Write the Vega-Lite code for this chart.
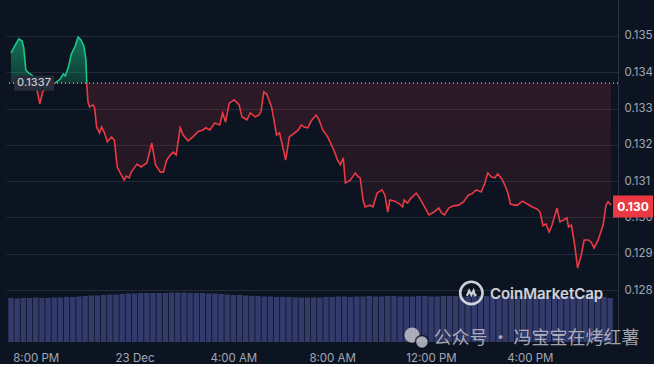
{
  "$schema": "https://vega.github.io/schema/vega-lite/v6.json",
  "width": 612,
  "height": 342,
  "padding": {"left": 5, "top": 0, "right": 0, "bottom": 0},
  "background": "#0d1421",
  "config": {"view": {"stroke": null}, "font": "Inter"},
  "datasets": {
    "price": [
      {"t":"2023-12-22T19:00","price":0.13453},{"t":"2023-12-22T19:10","price":0.13475},{"t":"2023-12-22T19:19","price":0.13492},{"t":"2023-12-22T19:27","price":0.13486},{"t":"2023-12-22T19:31","price":0.13467},{"t":"2023-12-22T19:36","price":0.13406},{"t":"2023-12-22T19:43","price":0.13398},{"t":"2023-12-22T19:53","price":0.13390},{"t":"2023-12-22T20:02","price":0.13357},{"t":"2023-12-22T20:10","price":0.13313},{"t":"2023-12-22T20:17","price":0.13346},{"t":"2023-12-22T20:29","price":0.13360},{"t":"2023-12-22T20:38","price":0.13365},{"t":"2023-12-22T20:48","price":0.13371},{"t":"2023-12-22T21:00","price":0.13382},{"t":"2023-12-22T21:07","price":0.13395},{"t":"2023-12-22T21:12","price":0.13390},{"t":"2023-12-22T21:19","price":0.13412},{"t":"2023-12-22T21:26","price":0.13448},{"t":"2023-12-22T21:31","price":0.13461},{"t":"2023-12-22T21:36","price":0.13472},{"t":"2023-12-22T21:43","price":0.13497},{"t":"2023-12-22T21:50","price":0.13489},{"t":"2023-12-22T21:57","price":0.13472},{"t":"2023-12-22T22:02","price":0.13434},{"t":"2023-12-22T22:04","price":0.13365},{"t":"2023-12-22T22:07","price":0.13318},{"t":"2023-12-22T22:11","price":0.13304},{"t":"2023-12-22T22:19","price":0.13310},{"t":"2023-12-22T22:23","price":0.13302},{"t":"2023-12-22T22:28","price":0.13249},{"t":"2023-12-22T22:35","price":0.13233},{"t":"2023-12-22T22:40","price":0.13249},{"t":"2023-12-22T22:47","price":0.13233},{"t":"2023-12-22T22:54","price":0.13208},{"t":"2023-12-22T23:04","price":0.13222},{"t":"2023-12-22T23:11","price":0.13213},{"t":"2023-12-22T23:18","price":0.13139},{"t":"2023-12-22T23:28","price":0.13117},{"t":"2023-12-22T23:35","price":0.13103},{"t":"2023-12-22T23:40","price":0.13114},{"t":"2023-12-22T23:47","price":0.13109},{"t":"2023-12-22T23:52","price":0.13125},{"t":"2023-12-22T23:59","price":0.13136},{"t":"2023-12-23T00:06","price":0.13147},{"t":"2023-12-23T00:16","price":0.13139},{"t":"2023-12-23T00:30","price":0.13150},{"t":"2023-12-23T00:42","price":0.13205},{"t":"2023-12-23T00:51","price":0.13145},{"t":"2023-12-23T01:03","price":0.13125},{"t":"2023-12-23T01:10","price":0.13125},{"t":"2023-12-23T01:18","price":0.13158},{"t":"2023-12-23T01:27","price":0.13172},{"t":"2023-12-23T01:34","price":0.13180},{"t":"2023-12-23T01:41","price":0.13172},{"t":"2023-12-23T01:51","price":0.13247},{"t":"2023-12-23T01:58","price":0.13227},{"t":"2023-12-23T02:10","price":0.13211},{"t":"2023-12-23T02:22","price":0.13222},{"t":"2023-12-23T02:34","price":0.13236},{"t":"2023-12-23T02:46","price":0.13241},{"t":"2023-12-23T02:53","price":0.13247},{"t":"2023-12-23T03:03","price":0.13241},{"t":"2023-12-23T03:15","price":0.13260},{"t":"2023-12-23T03:27","price":0.13255},{"t":"2023-12-23T03:34","price":0.13288},{"t":"2023-12-23T03:41","price":0.13263},{"t":"2023-12-23T03:50","price":0.13315},{"t":"2023-12-23T04:02","price":0.13324},{"t":"2023-12-23T04:14","price":0.13310},{"t":"2023-12-23T04:21","price":0.13277},{"t":"2023-12-23T04:33","price":0.13269},{"t":"2023-12-23T04:41","price":0.13288},{"t":"2023-12-23T04:53","price":0.13277},{"t":"2023-12-23T05:02","price":0.13282},{"t":"2023-12-23T05:07","price":0.13291},{"t":"2023-12-23T05:14","price":0.13346},{"t":"2023-12-23T05:21","price":0.13340},{"t":"2023-12-23T05:33","price":0.13304},{"t":"2023-12-23T05:45","price":0.13227},{"t":"2023-12-23T05:52","price":0.13233},{"t":"2023-12-23T05:59","price":0.13200},{"t":"2023-12-23T06:07","price":0.13158},{"t":"2023-12-23T06:16","price":0.13222},{"t":"2023-12-23T06:26","price":0.13230},{"t":"2023-12-23T06:38","price":0.13241},{"t":"2023-12-23T06:45","price":0.13255},{"t":"2023-12-23T06:52","price":0.13249},{"t":"2023-12-23T07:01","price":0.13247},{"t":"2023-12-23T07:09","price":0.13266},{"t":"2023-12-23T07:21","price":0.13282},{"t":"2023-12-23T07:28","price":0.13269},{"t":"2023-12-23T07:37","price":0.13241},{"t":"2023-12-23T07:49","price":0.13222},{"t":"2023-12-23T08:04","price":0.13186},{"t":"2023-12-23T08:13","price":0.13158},{"t":"2023-12-23T08:20","price":0.13145},{"t":"2023-12-23T08:27","price":0.13164},{"t":"2023-12-23T08:32","price":0.13095},{"t":"2023-12-23T08:44","price":0.13103},{"t":"2023-12-23T08:56","price":0.13123},{"t":"2023-12-23T09:03","price":0.13112},{"t":"2023-12-23T09:08","price":0.13109},{"t":"2023-12-23T09:15","price":0.13048},{"t":"2023-12-23T09:20","price":0.13029},{"t":"2023-12-23T09:32","price":0.13034},{"t":"2023-12-23T09:39","price":0.13029},{"t":"2023-12-23T09:49","price":0.13067},{"t":"2023-12-23T10:01","price":0.13076},{"t":"2023-12-23T10:08","price":0.13062},{"t":"2023-12-23T10:15","price":0.13015},{"t":"2023-12-23T10:20","price":0.13048},{"t":"2023-12-23T10:32","price":0.13045},{"t":"2023-12-23T10:44","price":0.13037},{"t":"2023-12-23T10:51","price":0.13029},{"t":"2023-12-23T10:55","price":0.13048},{"t":"2023-12-23T11:03","price":0.13040},{"t":"2023-12-23T11:12","price":0.13054},{"t":"2023-12-23T11:24","price":0.13067},{"t":"2023-12-23T11:31","price":0.13056},{"t":"2023-12-23T11:43","price":0.13032},{"t":"2023-12-23T11:55","price":0.13007},{"t":"2023-12-23T12:07","price":0.13015},{"t":"2023-12-23T12:19","price":0.13026},{"t":"2023-12-23T12:26","price":0.13012},{"t":"2023-12-23T12:33","price":0.13007},{"t":"2023-12-23T12:43","price":0.13026},{"t":"2023-12-23T12:55","price":0.13032},{"t":"2023-12-23T13:07","price":0.13034},{"t":"2023-12-23T13:19","price":0.13043},{"t":"2023-12-23T13:31","price":0.13062},{"t":"2023-12-23T13:40","price":0.13065},{"t":"2023-12-23T13:50","price":0.13076},{"t":"2023-12-23T14:02","price":0.13070},{"t":"2023-12-23T14:11","price":0.13095},{"t":"2023-12-23T14:18","price":0.13123},{"t":"2023-12-23T14:26","price":0.13112},{"t":"2023-12-23T14:35","price":0.13109},{"t":"2023-12-23T14:42","price":0.13120},{"t":"2023-12-23T14:52","price":0.13106},{"t":"2023-12-23T14:59","price":0.13090},{"t":"2023-12-23T15:06","price":0.13070},{"t":"2023-12-23T15:13","price":0.13037},{"t":"2023-12-23T15:23","price":0.13034},{"t":"2023-12-23T15:30","price":0.13034},{"t":"2023-12-23T15:42","price":0.13045},{"t":"2023-12-23T15:54","price":0.13037},{"t":"2023-12-23T16:06","price":0.13029},{"t":"2023-12-23T16:18","price":0.13023},{"t":"2023-12-23T16:25","price":0.13015},{"t":"2023-12-23T16:32","price":0.12977},{"t":"2023-12-23T16:39","price":0.12982},{"t":"2023-12-23T16:47","price":0.12960},{"t":"2023-12-23T16:54","price":0.12979},{"t":"2023-12-23T17:06","price":0.13026},{"t":"2023-12-23T17:13","price":0.12988},{"t":"2023-12-23T17:22","price":0.12993},{"t":"2023-12-23T17:30","price":0.12999},{"t":"2023-12-23T17:34","price":0.12974},{"t":"2023-12-23T17:41","price":0.12979},{"t":"2023-12-23T17:49","price":0.12924},{"t":"2023-12-23T17:56","price":0.12861},{"t":"2023-12-23T18:05","price":0.12897},{"t":"2023-12-23T18:12","price":0.12938},{"t":"2023-12-23T18:22","price":0.12938},{"t":"2023-12-23T18:29","price":0.12932},{"t":"2023-12-23T18:36","price":0.12916},{"t":"2023-12-23T18:46","price":0.12938},{"t":"2023-12-23T18:58","price":0.12979},{"t":"2023-12-23T19:05","price":0.13034},{"t":"2023-12-23T19:10","price":0.13043},{"t":"2023-12-23T19:17","price":0.13034}
    ],
    "volume": [
      {"t":"2023-12-22T19:00","vol":0.88},{"t":"2023-12-22T19:15","vol":0.87},{"t":"2023-12-22T19:30","vol":0.88},{"t":"2023-12-22T19:45","vol":0.88},{"t":"2023-12-22T20:00","vol":0.89},{"t":"2023-12-22T20:15","vol":0.88},{"t":"2023-12-22T20:30","vol":0.88},{"t":"2023-12-22T20:45","vol":0.89},{"t":"2023-12-22T21:00","vol":0.89},{"t":"2023-12-22T21:15","vol":0.90},{"t":"2023-12-22T21:30","vol":0.90},{"t":"2023-12-22T21:45","vol":0.91},{"t":"2023-12-22T22:00","vol":0.92},{"t":"2023-12-22T22:15","vol":0.93},{"t":"2023-12-22T22:30","vol":0.93},{"t":"2023-12-22T22:45","vol":0.94},{"t":"2023-12-22T23:00","vol":0.95},{"t":"2023-12-22T23:15","vol":0.95},{"t":"2023-12-22T23:30","vol":0.96},{"t":"2023-12-22T23:45","vol":0.97},{"t":"2023-12-23T00:00","vol":0.97},{"t":"2023-12-23T00:15","vol":0.98},{"t":"2023-12-23T00:30","vol":0.98},{"t":"2023-12-23T00:45","vol":0.98},{"t":"2023-12-23T01:00","vol":0.98},{"t":"2023-12-23T01:15","vol":0.98},{"t":"2023-12-23T01:30","vol":0.99},{"t":"2023-12-23T01:45","vol":0.99},{"t":"2023-12-23T02:00","vol":0.99},{"t":"2023-12-23T02:15","vol":0.98},{"t":"2023-12-23T02:30","vol":0.98},{"t":"2023-12-23T02:45","vol":0.98},{"t":"2023-12-23T03:00","vol":0.97},{"t":"2023-12-23T03:15","vol":0.97},{"t":"2023-12-23T03:30","vol":0.96},{"t":"2023-12-23T03:45","vol":0.95},{"t":"2023-12-23T04:00","vol":0.94},{"t":"2023-12-23T04:15","vol":0.94},{"t":"2023-12-23T04:30","vol":0.93},{"t":"2023-12-23T04:45","vol":0.92},{"t":"2023-12-23T05:00","vol":0.92},{"t":"2023-12-23T05:15","vol":0.91},{"t":"2023-12-23T05:30","vol":0.91},{"t":"2023-12-23T05:45","vol":0.90},{"t":"2023-12-23T06:00","vol":0.90},{"t":"2023-12-23T06:15","vol":0.90},{"t":"2023-12-23T06:30","vol":0.89},{"t":"2023-12-23T06:45","vol":0.89},{"t":"2023-12-23T07:00","vol":0.89},{"t":"2023-12-23T07:15","vol":0.89},{"t":"2023-12-23T07:30","vol":0.89},{"t":"2023-12-23T07:45","vol":0.90},{"t":"2023-12-23T08:00","vol":0.90},{"t":"2023-12-23T08:15","vol":0.91},{"t":"2023-12-23T08:30","vol":0.91},{"t":"2023-12-23T08:45","vol":0.90},{"t":"2023-12-23T09:00","vol":0.91},{"t":"2023-12-23T09:15","vol":0.91},{"t":"2023-12-23T09:30","vol":0.92},{"t":"2023-12-23T09:45","vol":0.91},{"t":"2023-12-23T10:00","vol":0.91},{"t":"2023-12-23T10:15","vol":0.92},{"t":"2023-12-23T10:30","vol":0.92},{"t":"2023-12-23T10:45","vol":0.91},{"t":"2023-12-23T11:00","vol":0.91},{"t":"2023-12-23T11:15","vol":0.91},{"t":"2023-12-23T11:30","vol":0.92},{"t":"2023-12-23T11:45","vol":0.92},{"t":"2023-12-23T12:00","vol":0.91},{"t":"2023-12-23T12:15","vol":0.91},{"t":"2023-12-23T12:30","vol":0.92},{"t":"2023-12-23T12:45","vol":0.92},{"t":"2023-12-23T13:00","vol":0.92},{"t":"2023-12-23T13:15","vol":0.91},{"t":"2023-12-23T13:30","vol":0.91},{"t":"2023-12-23T13:45","vol":0.92},{"t":"2023-12-23T14:00","vol":0.92},{"t":"2023-12-23T14:15","vol":0.92},{"t":"2023-12-23T14:30","vol":0.91},{"t":"2023-12-23T14:45","vol":0.91},{"t":"2023-12-23T15:00","vol":0.91},{"t":"2023-12-23T15:15","vol":0.92},{"t":"2023-12-23T15:30","vol":0.92},{"t":"2023-12-23T15:45","vol":0.92},{"t":"2023-12-23T16:00","vol":0.92},{"t":"2023-12-23T16:15","vol":0.91},{"t":"2023-12-23T16:30","vol":0.91},{"t":"2023-12-23T16:45","vol":0.92},{"t":"2023-12-23T17:00","vol":0.92},{"t":"2023-12-23T17:15","vol":0.92},{"t":"2023-12-23T17:30","vol":0.92},{"t":"2023-12-23T17:45","vol":0.91},{"t":"2023-12-23T18:00","vol":0.91},{"t":"2023-12-23T18:15","vol":0.91},{"t":"2023-12-23T18:30","vol":0.92},{"t":"2023-12-23T18:45","vol":0.92},{"t":"2023-12-23T19:00","vol":0.90},{"t":"2023-12-23T19:15","vol":0.88}
    ]
  },
  "layer": [
    {
      "data": {"name": "volume"},
      "mark": {"type": "bar", "size": 5.4, "color": "#323b6b", "clip": true},
      "encoding": {
        "x": {"field": "t", "type": "temporal", "title": null,
              "scale": {"domain": [{"year":2023,"month":12,"date":22,"hours":19,"minutes":0},{"year":2023,"month":12,"date":23,"hours":19,"minutes":22}], "nice": false}},
        "y": {"field": "vol", "type": "quantitative", "title": null, "axis": null, "scale": {"domain": [0, 6.84], "nice": false}}
      }
    },
    {
      "layer": [
        {
          "data": {"name": "price"},
          "mark": {"type": "area", "fill": {"gradient": "linear", "x1": 0, "y1": 0, "x2": 0, "y2": 1, "stops": [
            {"offset": 0, "color": "rgba(22,199,132,0.55)"},
            {"offset": 0.1996, "color": "rgba(22,199,132,0.2)"},
            {"offset": 0.1998, "color": "rgba(234,57,67,0.15)"},
            {"offset": 1, "color": "rgba(234,57,67,0.05)"}]}},
          "encoding": {
            "x": {"field": "t", "type": "temporal", "title": null},
            "y": {"field": "price", "type": "quantitative", "title": null, "scale": {"domain": [0.12657, 0.13599], "nice": false, "zero": false}},
            "y2": {"datum": 0.1337}
          }
        },
        {
          "data": {"name": "price"},
          "mark": {"type": "line", "strokeWidth": 1.6, "stroke": {"gradient": "linear", "x1": 0, "y1": 0, "x2": 0, "y2": 1, "stops": [
            {"offset": 0, "color": "#16c784"},
            {"offset": 0.1996, "color": "#16c784"},
            {"offset": 0.1998, "color": "#ea3943"},
            {"offset": 1, "color": "#ea3943"}]}},
          "encoding": {
            "x": {"field": "t", "type": "temporal", "title": null,
                  "axis": {"title": null, "grid": false, "domain": false, "ticks": false, "labelColor": "#a1a7b7", "labelFontSize": 11.5, "labelPadding": 10, "labelFlush": false,
                           "values": [{"year":2023,"month":12,"date":22,"hours":20},{"year":2023,"month":12,"date":23,"hours":0},{"year":2023,"month":12,"date":23,"hours":4},{"year":2023,"month":12,"date":23,"hours":8},{"year":2023,"month":12,"date":23,"hours":12},{"year":2023,"month":12,"date":23,"hours":16}],
                           "labelExpr": "timeFormat(datum.value, '%H') === '00' ? timeFormat(datum.value, '%-d %b') : timeFormat(datum.value, '%-I:%M %p')"}},
            "y": {"field": "price", "type": "quantitative", "title": null,
                  "axis": {"title": null, "orient": "right", "values": [0.128, 0.129, 0.13, 0.131, 0.132, 0.133, 0.134, 0.135], "format": ".3f",
                           "grid": true, "gridColor": "#232a3a", "domainColor": "#2c3344", "ticks": false,
                           "labelColor": "#a1a7b7", "labelFontSize": 11.5, "labelPadding": 6}}
          }
        },
        {
          "data": {"values": [{}]},
          "mark": {"type": "rule", "color": "#ffffff", "strokeDash": [1, 3], "strokeWidth": 1.2, "opacity": 0.75},
          "encoding": {"y": {"datum": 0.1337}}
        },
        {
          "data": {"values": [{}]},
          "mark": {"type": "point", "shape": "M-1,-0.375H1V0.375H-1Z", "size": 1600, "filled": true, "fill": "#272c3a", "opacity": 1, "xOffset": 23},
          "encoding": {"x": {"datum": {"year":2023,"month":12,"date":22,"hours":19,"minutes":0}, "type": "temporal"}, "y": {"datum": 0.1337}}
        },
        {
          "data": {"values": [{}]},
          "mark": {"type": "text", "text": "0.1337", "fontSize": 11, "fontWeight": 500, "color": "#c5c9d3", "xOffset": 23},
          "encoding": {"x": {"datum": {"year":2023,"month":12,"date":22,"hours":19,"minutes":0}, "type": "temporal"}, "y": {"datum": 0.1337}}
        },
        {
          "data": {"values": [{}]},
          "mark": {"type": "point", "shape": "M-1,-0.55H1V0.55H-1Z", "size": 1600, "filled": true, "fill": "#ea3943", "opacity": 1, "xOffset": 20},
          "encoding": {"x": {"datum": {"year":2023,"month":12,"date":23,"hours":19,"minutes":22}, "type": "temporal"}, "y": {"datum": 0.1303}}
        },
        {
          "data": {"values": [{}]},
          "mark": {"type": "text", "text": "0.130", "fontSize": 12, "fontWeight": "bold", "color": "#ffffff", "xOffset": 20},
          "encoding": {"x": {"datum": {"year":2023,"month":12,"date":23,"hours":19,"minutes":22}, "type": "temporal"}, "y": {"datum": 0.1303}}
        },
        {
          "data": {"values": [{}]},
          "mark": {"type": "point", "shape": "circle", "size": 500, "filled": false, "stroke": "#e4e6ec", "strokeWidth": 2.6, "opacity": 0.9},
          "encoding": {"x": {"datum": {"year":2023,"month":12,"date":23,"hours":13,"minutes":38}, "type": "temporal"}, "y": {"datum": 0.12792}}
        },
        {
          "data": {"values": [{}]},
          "mark": {"type": "point", "shape": "M-0.7,0.45L-0.35,-0.35L0,0.3L0.35,-0.35L0.55,0.35L0.8,0.25", "size": 160, "filled": false, "stroke": "#e4e6ec", "strokeWidth": 2.2, "opacity": 0.9},
          "encoding": {"x": {"datum": {"year":2023,"month":12,"date":23,"hours":13,"minutes":38}, "type": "temporal"}, "y": {"datum": 0.12792}}
        },
        {
          "data": {"values": [{}]},
          "mark": {"type": "text", "text": "CoinMarketCap", "align": "left", "baseline": "middle", "fontSize": 15, "fontWeight": 600, "color": "#e4e6ec", "opacity": 0.9},
          "encoding": {"x": {"datum": {"year":2023,"month":12,"date":23,"hours":14,"minutes":23}, "type": "temporal"}, "y": {"datum": 0.12789}}
        },
        {
          "data": {"values": [{}]},
          "mark": {"type": "point", "shape": "circle", "size": 230, "filled": true, "fill": "#c9cbd0", "opacity": 0.8},
          "encoding": {"x": {"datum": {"year":2023,"month":12,"date":23,"hours":11,"minutes":14}, "type": "temporal"}, "y": {"datum": 0.12676}}
        },
        {
          "data": {"values": [{}]},
          "mark": {"type": "point", "shape": "circle", "size": 170, "filled": true, "fill": "#c9cbd0", "opacity": 0.8, "stroke": "#0d1421", "strokeWidth": 1.5},
          "encoding": {"x": {"datum": {"year":2023,"month":12,"date":23,"hours":11,"minutes":38}, "type": "temporal"}, "y": {"datum": 0.12657}}
        },
        {
          "data": {"values": [{}]},
          "mark": {"type": "text", "text": "公众号 · 冯宝宝在烤红薯", "align": "left", "baseline": "middle", "fontSize": 18, "font": "Noto Sans CJK SC", "color": "#d2d3d8", "opacity": 0.75},
          "encoding": {"x": {"datum": {"year":2023,"month":12,"date":23,"hours":12,"minutes":6}, "type": "temporal"}, "y": {"datum": 0.12664}}
        }
      ]
    }
  ],
  "resolve": {"scale": {"y": "independent"}}
}
